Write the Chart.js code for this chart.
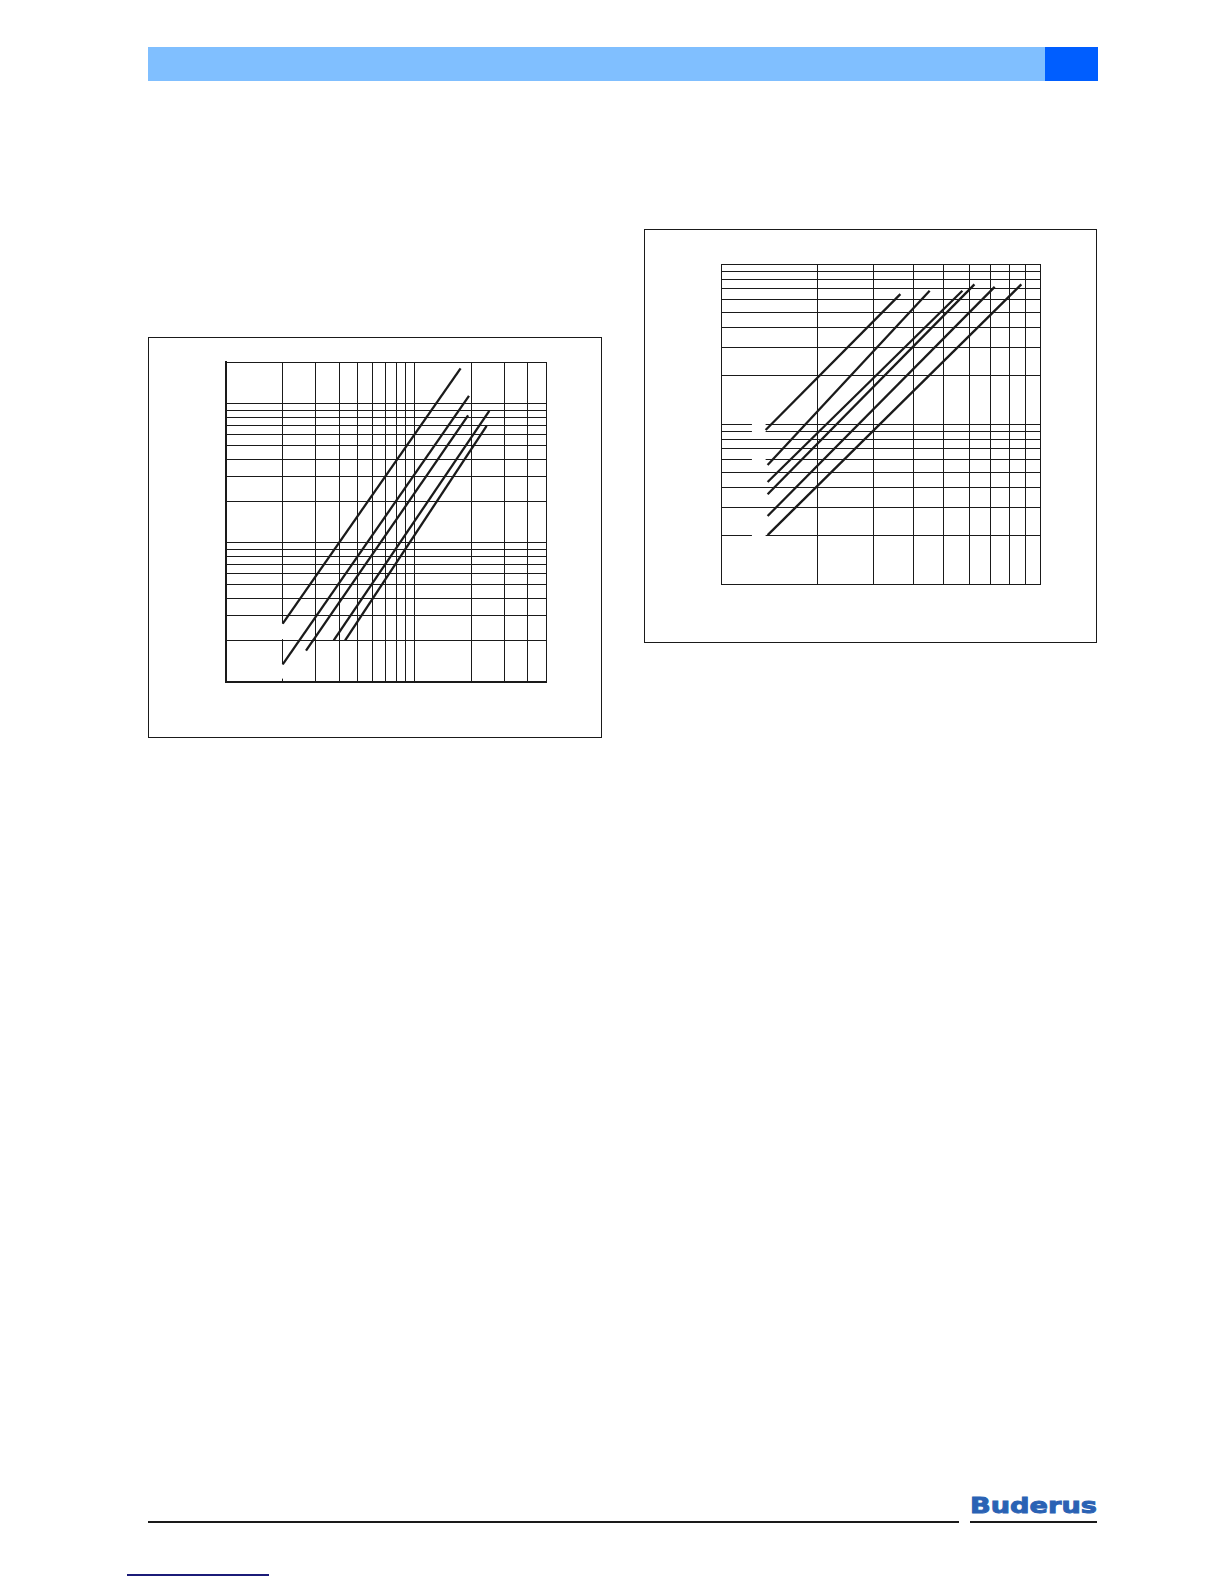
<!DOCTYPE html>
<html>
<head>
<meta charset="utf-8">
<script src="https://cdn.jsdelivr.net/npm/chart.js@4/dist/chart.umd.min.js"></script>
<style>
  html, body { margin: 0; padding: 0; background: #fff; }
  body { width: 1224px; height: 1584px; position: relative; overflow: hidden; }
  .abs { position: absolute; }
  .frame { position: absolute; border: 1px solid #1a1a1a; box-sizing: border-box; }
  #logo { position: absolute; left: 970px; top: 1495px; font-family: "DejaVu Sans", sans-serif; font-weight: bold; font-size: 22px; line-height: 22px; color: #2a62b4; -webkit-text-stroke: 0.9px #2a62b4; white-space: nowrap; transform-origin: 0 0; }
</style>
</head>
<body>
<div class="abs" style="left:148px;top:47px;width:897px;height:34px;background:#80bfff;"></div>
<div class="abs" style="left:1045px;top:47px;width:53px;height:34px;background:#005eff;"></div>

<div class="frame" style="left:148px;top:337px;width:454px;height:401px;"></div>
<div class="frame" style="left:644px;top:229px;width:453px;height:414px;"></div>

<canvas id="c1" class="abs" width="326" height="326" style="left:223px;top:359px;"></canvas>
<canvas id="c2" class="abs" width="325" height="326" style="left:718px;top:261px;"></canvas>

<div class="abs" style="left:148px;top:1521px;width:811px;height:1.5px;background:#1a1a1a;"></div>
<div class="abs" style="left:970px;top:1521px;width:127px;height:1.5px;background:#1a1a1a;"></div>
<div id="logo">Buderus</div>
<div class="abs" style="left:127px;top:1574px;width:142px;height:2px;background:#1b1b78;"></div>

<script>
// ---------- Chart 1 (left) : log-log, x 1..50, y 0.1..20 ----------
const c1XRange = [1, 50];
const c1YRange = [0.1, 20];
const c1XTicks = [1, 2, 3, 4, 5, 6, 7, 8, 9, 10, 20, 30, 40, 50];
const c1YTicks = [0.1, 0.2, 0.3, 0.4, 0.5, 0.6, 0.7, 0.8, 0.9, 1, 2, 3, 4, 5, 6, 7, 8, 9, 10, 20];
const c1StartX = [2.0, 2.0, 2.66, 3.73, 4.29];
const c1StartY = [0.263, 0.134, 0.168, 0.199, 0.199];
const c1EndX   = [17.6, 19.5, 19.3, 25.0, 24.2];
const c1EndY   = [18.0, 11.4, 8.26, 8.89, 6.95];

// ---------- Chart 2 (right) : log-log, x 1..10, y 0.1..10 ----------
const c2XRange = [1, 10];
const c2YRange = [0.1, 10];
const c2XTicks = [1, 2, 3, 4, 5, 6, 7, 8, 9, 10];
const c2YTicks = [0.1, 0.2, 0.3, 0.4, 0.5, 0.6, 0.7, 0.8, 0.9, 1, 2, 3, 4, 5, 6, 7, 8, 9, 10];
const c2StartX = [1.38, 1.40, 1.40, 1.40, 1.40, 1.40];
const c2StartY = [0.917, 0.555, 0.434, 0.364, 0.266, 0.202];
const c2EndX   = [3.65, 4.51, 5.71, 6.23, 7.21, 8.74];
const c2EndY   = [6.48, 6.80, 6.80, 7.46, 7.20, 7.46];

const INK = '#1a1a1a';

// white gaps in grid lines (label knock-outs)
const gapPlugin = {
  id: 'gaps',
  beforeDatasetsDraw(chart, args, opts) {
    const ctx = chart.ctx, xs = chart.scales.x, ys = chart.scales.y;
    ctx.save();
    ctx.fillStyle = '#fff';
    (opts.v || []).forEach(g => {
      const px = xs.getPixelForValue(g.x);
      const p0 = ys.getPixelForValue(g.y1), p1 = ys.getPixelForValue(g.y0);
      ctx.fillRect(Math.round(px) - 2, p0, 4, p1 - p0 - 1);
    });
    (opts.h || []).forEach(g => {
      const py = ys.getPixelForValue(g.y);
      const p0 = xs.getPixelForValue(g.x0), p1 = xs.getPixelForValue(g.x1);
      ctx.fillRect(p0, Math.round(py) - 2, p1 - p0, 4);
    });
    ctx.restore();
  }
};

function makeChart(id, xr, yr, xt, yt, sx, sy, ex, ey, borderW, gaps) {
  const datasets = sx.map((_, i) => ({
    data: [{x: sx[i], y: sy[i]}, {x: ex[i], y: ey[i]}],
    showLine: true,
    borderColor: INK,
    borderWidth: 2.3,
    pointRadius: 0,
    fill: false
  }));
  const axis = (range, ticks, bw) => ({
    type: 'logarithmic',
    min: range[0], max: range[1],
    afterBuildTicks: (s) => { s.ticks = ticks.map(v => ({value: v})); },
    ticks: { display: false, padding: 0 },
    grid: { display: true, color: INK, lineWidth: 1, drawTicks: false, tickLength: 0 },
    border: { display: true, color: INK, width: bw },
    title: { display: false }
  });
  return new Chart(document.getElementById(id), {
    type: 'scatter',
    data: { datasets },
    options: {
      responsive: false,
      animation: false,
      devicePixelRatio: 1,
      layout: { padding: 3 },
      scales: { x: axis(xr, xt, borderW), y: axis(yr, yt, borderW) },
      plugins: { legend: { display: false }, tooltip: { enabled: false }, gaps: gaps }
    },
    plugins: [gapPlugin]
  });
}

makeChart('c1', c1XRange, c1YRange, c1XTicks, c1YTicks, c1StartX, c1StartY, c1EndX, c1EndY, 2,
  { v: [{x: 2, y0: 0.2, y1: 0.263}, {x: 2, y0: 0.104, y1: 0.134}] });
makeChart('c2', c2XRange, c2YRange, c2XTicks, c2YTicks, c2StartX, c2StartY, c2EndX, c2EndY, 1,
  { h: [{y: 1, x0: 1.25, x1: 1.38}, {y: 0.9, x0: 1.25, x1: 1.38}, {y: 0.6, x0: 1.25, x1: 1.38}, {y: 0.2, x0: 1.25, x1: 1.38}] });

// fit the wordmark to its width
const logo = document.getElementById('logo');
const w = logo.getBoundingClientRect().width;
logo.style.transform = 'scaleX(' + (127 / w) + ')';
</script>
</body>
</html>
